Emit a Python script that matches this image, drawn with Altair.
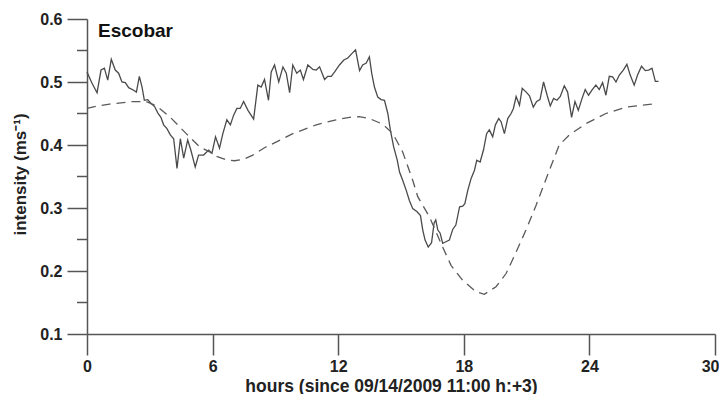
import altair as alt
import pandas as pd

# Observed intensity (solid line)
obs_hours = [0.00, 0.24, 0.48, 0.67, 0.83, 0.99, 1.16, 1.35, 1.51, 1.67, 1.83, 1.99, 2.23, 2.36, 2.50, 2.63,
             2.74, 2.90, 3.06, 3.23, 3.38, 3.53, 3.66, 3.82, 3.98, 4.14, 4.30, 4.46, 4.62, 4.81, 4.96, 5.17,
             5.33, 5.57, 5.81, 5.97, 6.14, 6.33, 6.49, 6.68, 6.85, 7.00, 7.16, 7.32, 7.48, 7.69, 7.96, 8.16,
             8.32, 8.48, 8.67, 8.80, 8.96, 9.16, 9.36, 9.52, 9.68, 9.83, 10.02, 10.19, 10.34, 10.55, 10.79,
             10.95, 11.11, 11.35, 11.50, 11.67, 11.83, 12.06, 12.27, 12.46, 12.65, 12.83, 13.02, 13.17, 13.34,
             13.49, 13.60, 13.73, 13.89, 14.05, 14.21, 14.37, 14.49, 14.65, 14.82, 14.93, 15.08, 15.25, 15.40,
             15.56, 15.77, 15.93, 16.04, 16.15, 16.30, 16.46, 16.58, 16.66, 16.76, 16.87, 16.99, 17.12, 17.31,
             17.47, 17.62, 17.80, 17.95, 18.05, 18.19, 18.35, 18.51, 18.62, 18.78, 18.94, 19.09, 19.22, 19.38,
             19.51, 19.67, 19.78, 19.94, 20.10, 20.26, 20.37, 20.50, 20.66, 20.79, 20.98, 21.14, 21.32, 21.48,
             21.64, 21.81, 21.98, 22.13, 22.29, 22.45, 22.61, 22.80, 22.96, 23.15, 23.31, 23.47, 23.65, 23.80,
             23.96, 24.12, 24.31, 24.47, 24.63, 24.79, 24.95, 25.11, 25.27, 25.43, 25.62, 25.79, 25.95, 26.14,
             26.30, 26.49, 26.67, 26.83, 26.99, 27.15, 27.30]
obs_values = [0.516, 0.498, 0.483, 0.519, 0.522, 0.503, 0.536, 0.519, 0.514, 0.500, 0.499, 0.491, 0.487, 0.484,
              0.509, 0.492, 0.471, 0.472, 0.466, 0.461, 0.451, 0.444, 0.432, 0.426, 0.416, 0.410, 0.363, 0.410,
              0.379, 0.408, 0.392, 0.365, 0.384, 0.384, 0.392, 0.387, 0.413, 0.395, 0.418, 0.440, 0.432, 0.447,
              0.458, 0.458, 0.469, 0.455, 0.441, 0.495, 0.492, 0.504, 0.471, 0.516, 0.527, 0.500, 0.524, 0.514,
              0.483, 0.527, 0.514, 0.519, 0.504, 0.527, 0.520, 0.519, 0.524, 0.504, 0.509, 0.509, 0.516, 0.527,
              0.535, 0.538, 0.545, 0.551, 0.518, 0.527, 0.530, 0.540, 0.514, 0.492, 0.476, 0.472, 0.471, 0.450,
              0.424, 0.397, 0.376, 0.357, 0.344, 0.328, 0.312, 0.299, 0.294, 0.288, 0.265, 0.249, 0.238, 0.245,
              0.276, 0.281, 0.265, 0.260, 0.244, 0.246, 0.249, 0.266, 0.273, 0.302, 0.303, 0.307, 0.328, 0.347,
              0.360, 0.376, 0.373, 0.392, 0.418, 0.424, 0.413, 0.432, 0.442, 0.437, 0.418, 0.442, 0.450, 0.458,
              0.477, 0.463, 0.490, 0.484, 0.478, 0.460, 0.469, 0.472, 0.500, 0.479, 0.462, 0.474, 0.471, 0.477,
              0.494, 0.484, 0.444, 0.469, 0.455, 0.474, 0.488, 0.479, 0.487, 0.495, 0.488, 0.499, 0.479, 0.509,
              0.508, 0.500, 0.511, 0.519, 0.528, 0.511, 0.495, 0.511, 0.525, 0.518, 0.519, 0.522, 0.501, 0.501]

# Model intensity (dashed line)
model_hours = [0.00, 0.50, 1.08, 2.20, 2.83, 3.31, 3.95, 4.74, 5.38, 5.86, 6.18, 6.60, 7.05, 7.45, 7.92, 8.50,
               9.36, 9.83, 10.95, 11.90, 12.54, 13.00, 13.49, 14.13, 14.61, 15.08, 15.56, 15.80, 16.36, 16.99,
               17.39, 17.95, 18.59, 18.98, 19.54, 20.02, 20.50, 20.97, 21.45, 21.61, 22.09, 22.56, 23.04, 23.84,
               24.79, 25.75, 27.02]
model_values = [0.458, 0.462, 0.465, 0.469, 0.469, 0.462, 0.445, 0.418, 0.397, 0.389, 0.382, 0.377, 0.375, 0.377,
                0.384, 0.396, 0.410, 0.418, 0.432, 0.440, 0.444, 0.445, 0.442, 0.433, 0.418, 0.389, 0.344, 0.318,
                0.286, 0.238, 0.209, 0.185, 0.167, 0.163, 0.175, 0.196, 0.230, 0.265, 0.304, 0.318, 0.360, 0.400,
                0.416, 0.434, 0.450, 0.460, 0.465]

x_ticks = [0, 6, 12, 18, 24, 30]
y_ticks = [0.1, 0.2, 0.3, 0.4, 0.5, 0.6]
y_minor = [0.15, 0.25, 0.35, 0.45, 0.55]
station = "Escobar"

FONT = "Liberation Sans"
AX = "#555555"

obs = pd.DataFrame({"h": obs_hours, "v": obs_values})
mod = pd.DataFrame({"h": model_hours, "v": model_values})
minor = pd.DataFrame({"v": y_minor})

xscale = alt.Scale(domain=[0, 30], nice=False, zero=False)
yscale = alt.Scale(domain=[0.1, 0.6], nice=False, zero=False)

x_axis = alt.Axis(values=x_ticks, tickSize=21, tickWidth=1.5, tickColor=AX, domainColor=AX, domainWidth=1.5,
                  labelFont=FONT, labelFontSize=16, labelFontWeight="bold", labelColor="#222222",
                  labelPadding=3, grid=False, title="hours (since 09/14/2009 11:00 h:+3)",
                  labelAlign={"expr": "datum.value == 30 ? 'right' : 'center'"},
                  labelOffset={"expr": "datum.value == 30 ? 4 : 0"},
                  titleFont=FONT, titleFontSize=17.5, titleFontWeight="bold", titleColor="#222222",
                  titleX=304, titleY=57, titleAlign="center", titleBaseline="alphabetic", labelFlush=False)
y_axis = alt.Axis(values=y_ticks, format=".1f", tickSize=20, tickWidth=1.5, tickColor=AX, domainColor=AX,
                  domainWidth=1.5, labelFont=FONT, labelFontSize=16, labelFontWeight="bold",
                  labelColor="#222222", labelPadding=5, grid=False, title="intensity (ms⁻¹)",
                  titleFont=FONT, titleFontSize=17, titleFontWeight="bold", titleColor="#222222",
                  titleAngle=270, titleX=-62, titleY=155, titleAlign="center", titleBaseline="alphabetic",
                  labelFlush=False)

solid = alt.Chart(obs).mark_line(color="#4a4a4a", strokeWidth=1.3).encode(
    x=alt.X("h:Q", scale=xscale, axis=x_axis),
    y=alt.Y("v:Q", scale=yscale, axis=y_axis),
)
dashed = alt.Chart(mod).mark_line(color="#5a5a5a", strokeWidth=1.3, strokeDash=[9, 6]).encode(
    x=alt.X("h:Q", scale=xscale),
    y=alt.Y("v:Q", scale=yscale),
)
minor_ticks = alt.Chart(minor).mark_rule(color=AX, strokeWidth=1.5).encode(
    y=alt.Y("v:Q", scale=yscale),
    x=alt.value(-10),
    x2=alt.value(0),
)
label = alt.Chart(pd.DataFrame({"t": [station]})).mark_text(
    font=FONT, fontSize=19, fontWeight="bold", color="#111111", align="left", baseline="alphabetic"
).encode(text="t:N", x=alt.value(11), y=alt.value(18))

chart = alt.layer(solid, dashed, minor_ticks, label).properties(
    width=628, height=315, autosize="none",
    padding={"left": 79, "top": 11, "right": 4, "bottom": 60},
).configure_view(stroke=None)

chart.save("out.html", embed_options={"renderer": "svg", "actions": False})
